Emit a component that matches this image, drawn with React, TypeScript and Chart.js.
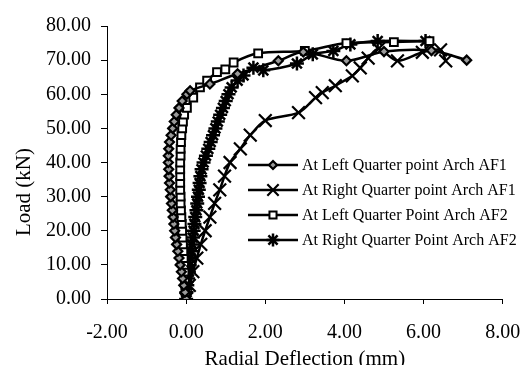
import React, { useEffect, useRef } from 'react';
import { Chart, registerables } from 'chart.js';
import { drawPoint } from 'chart.js/helpers';
Chart.register(...registerables);

// Series 1: At Left Quarter point Arch AF1 (diamond)
const s1Load = [0, 2, 4, 6, 8, 10, 12, 14, 16, 18, 20, 22, 24, 26, 28, 30, 32, 34, 36, 38, 40, 42, 44, 46, 48, 50, 52, 54, 56, 58, 60, 61, 63, 66, 69.8, 72.4, 69.8, 72.5, 72.8, 70];
const s1Defl = [0, -0.03, -0.06, -0.09, -0.12, -0.15, -0.18, -0.21, -0.24, -0.27, -0.29, -0.31, -0.33, -0.35, -0.37, -0.39, -0.4, -0.42, -0.43, -0.44, -0.45, -0.45, -0.44, -0.42, -0.38, -0.34, -0.3, -0.25, -0.18, -0.1, 0.02, 0.1, 0.6, 1.3, 2.33, 2.96, 4.05, 5.0, 6.2, 7.09];

// Series 2: At Right Quarter point Arch AF1 (x)
const s2Load = [0, 4, 8, 12, 16, 20, 24, 28, 32, 36, 40, 44, 48, 52.3, 54.6, 59, 60.5, 62.5, 65.4, 67.7, 70.6, 73.3, 69.8, 72.3, 73, 69.8];
const s2Defl = [0, 0.08, 0.17, 0.27, 0.37, 0.48, 0.6, 0.72, 0.85, 0.97, 1.11, 1.37, 1.62, 2.0, 2.84, 3.27, 3.44, 3.77, 4.2, 4.4, 4.6, 4.86, 5.34, 5.97, 6.43, 6.56];

// Series 3: At Left Quarter Point Arch AF2 (square)
const s3Load = [0, 2, 4, 6, 8, 10, 12, 14, 16, 18, 20, 22, 24, 26, 28, 30, 32, 34, 36, 38, 40, 42, 44, 46, 48, 50, 52, 54, 56, 59, 62, 64, 66.5, 67.3, 69.3, 72, 72.7, 75, 75.3, 75.6];
const s3Defl = [0, -0.01, -0.02, -0.03, -0.04, -0.05, -0.06, -0.07, -0.08, -0.09, -0.1, -0.11, -0.12, -0.13, -0.14, -0.14, -0.15, -0.15, -0.15, -0.15, -0.15, -0.14, -0.14, -0.13, -0.12, -0.1, -0.08, -0.05, 0.02, 0.18, 0.35, 0.53, 0.78, 0.99, 1.2, 1.82, 3.0, 4.05, 5.25, 6.15];

// Series 4: At Right Quarter Point Arch AF2 (star)
const s4Load = [0, 2, 4, 6, 8, 10, 12, 14, 16, 18, 20, 22, 24, 26, 28, 30, 32, 34, 36, 38, 40, 42, 44, 46, 48, 50, 52, 54, 56, 58, 60, 62, 64, 65.5, 67.8, 67, 69, 71.7, 72.7, 74.6, 75.6, 75.6];
const s4Defl = [0, 0.01, 0.03, 0.05, 0.07, 0.09, 0.11, 0.13, 0.15, 0.17, 0.19, 0.21, 0.23, 0.26, 0.28, 0.3, 0.32, 0.34, 0.36, 0.39, 0.44, 0.5, 0.56, 0.62, 0.68, 0.74, 0.8, 0.86, 0.93, 1.0, 1.07, 1.15, 1.3, 1.45, 1.7, 1.95, 2.8, 3.2, 3.72, 4.15, 4.84, 6.05];

const seriesLabels = [
  'At Left Quarter point Arch AF1',
  'At Right Quarter point Arch AF1',
  'At Left Quarter Point Arch AF2',
  'At Right Quarter Point Arch AF2',
];
const xTitle = 'Radial Deflection (mm)';
const yTitle = 'Load (kN)';

const FONT = "'Liberation Serif', 'Times New Roman', serif";

const styles = [
  { pointStyle: 'rectRot', radius: 4.5, bg: '#9a9a9a', bw: 2.2 },
  { pointStyle: 'crossRot', radius: 9, bg: '#000000', bw: 2.2 },
  { pointStyle: 'rect', radius: 5.5, bg: '#ffffff', bw: 2 },
  { pointStyle: 'star', radius: 7, bg: '#000000', bw: 2.5 },
];

const pts = (xs: number[], ys: number[]) => xs.map((x, i) => ({ x, y: ys[i] }));

const overlayPlugin = {
  id: 'overlay',
  afterDraw(chart: any) {
    const ctx = chart.ctx as CanvasRenderingContext2D;
    ctx.save();
    // legend
    const lx0 = 248, lx1 = 298, ys = [165, 190, 215, 240];
    ctx.font = `16px ${FONT}`;
    ctx.textBaseline = 'middle';
    ctx.textAlign = 'left';
    seriesLabels.forEach((lab, i) => {
      const y = ys[i];
      ctx.strokeStyle = '#000';
      ctx.lineWidth = 2.5;
      ctx.beginPath();
      ctx.moveTo(lx0, y);
      ctx.lineTo(lx1, y);
      ctx.stroke();
      const st = styles[i];
      ctx.fillStyle = st.bg;
      ctx.strokeStyle = '#000';
      ctx.lineWidth = st.bw;
      drawPoint(ctx, { pointStyle: st.pointStyle, radius: i === 1 ? 8 : st.radius - 0.5, borderWidth: st.bw, rotation: 0 } as any, (lx0 + lx1) / 2, y);
      ctx.fillStyle = '#000';
      ctx.fillText(lab, 302, y + 1);
    });
    // axis titles
    const xs = chart.scales.x;
    ctx.font = `21px ${FONT}`;
    ctx.textAlign = 'center';
    ctx.textBaseline = 'middle';
    ctx.fillStyle = '#000';
    ctx.fillText(xTitle, (xs.left + xs.right) / 2, 359);
    ctx.translate(24, 192);
    ctx.rotate(-Math.PI / 2);
    ctx.fillText(yTitle, 0, 0);
    ctx.restore();
  },
};

export default function App() {
  const ref = useRef<HTMLCanvasElement | null>(null);
  useEffect(() => {
    document.body.style.margin = '0';
    const series = [
      pts(s1Defl, s1Load),
      pts(s2Defl, s2Load),
      pts(s3Defl, s3Load),
      pts(s4Defl, s4Load),
    ];
    const chart = new Chart(ref.current as HTMLCanvasElement, {
      type: 'scatter',
      data: {
        datasets: series.map((d, i) => ({
          label: seriesLabels[i],
          data: d,
          showLine: true,
          borderColor: '#000',
          borderWidth: 2.5,
          tension: 0.3,
          pointStyle: styles[i].pointStyle as any,
          pointRadius: styles[i].radius,
          pointBackgroundColor: styles[i].bg,
          pointBorderColor: '#000',
          pointBorderWidth: styles[i].bw,
        })),
      },
      options: {
        animation: false,
        responsive: false,
        events: [],
        layout: { padding: { left: 0, right: 22.3, top: 26, bottom: 0 } },
        plugins: { legend: { display: false }, tooltip: { enabled: false } },
        scales: {
          x: {
            type: 'linear',
            min: -2,
            max: 8,
            afterFit: (s: any) => { s.height = 66; },
            border: { display: true, color: '#000', width: 1 },
            grid: { display: true, drawOnChartArea: false, drawTicks: true, tickLength: 5, color: '#000' },
            ticks: {
              stepSize: 2,
              padding: 4,
              color: '#000',
              font: { family: FONT, size: 20, lineHeight: 2.5 },
              callback: (v: any) => Number(v).toFixed(2),
              maxRotation: 0,
            },
          },
          y: {
            type: 'linear',
            min: 0,
            max: 80,
            afterFit: (s: any) => { s.width = 107; },
            border: { display: true, color: '#000', width: 1 },
            grid: { display: true, drawOnChartArea: false, drawTicks: true, tickLength: 6, color: '#000' },
            ticks: {
              stepSize: 10,
              padding: 10,
              color: '#000',
              font: { family: FONT, size: 20 },
              callback: (v: any) => Number(v).toFixed(2),
            },
          },
        },
      },
      plugins: [overlayPlugin],
    });
    return () => chart.destroy();
  }, []);
  return (
    <div style={{ position: 'absolute', left: 0, top: 0, width: 525, height: 365, overflow: 'hidden', background: '#fff' }}>
      <canvas ref={ref} width={525} height={365} style={{ display: 'block', width: 525, height: 365 }} />
    </div>
  );
}
